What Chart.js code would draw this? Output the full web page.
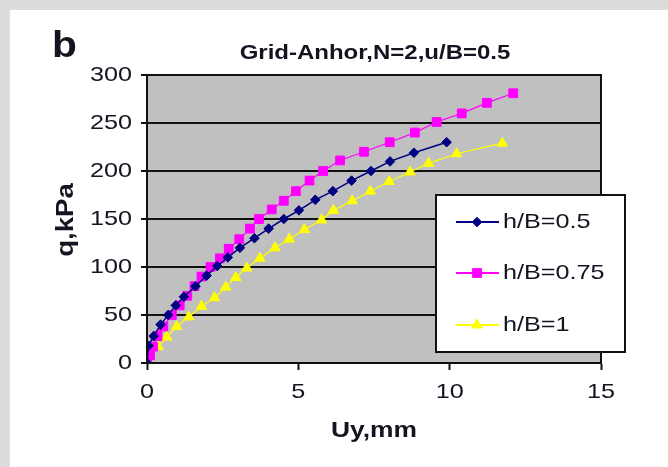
<!DOCTYPE html>
<html>
<head>
<meta charset="utf-8">
<script src="https://cdn.jsdelivr.net/npm/chart.js@4.4.1/dist/chart.umd.min.js"></script>
<style>
  html, body { margin: 0; padding: 0; background: #ffffff; }
  #wrap { position: relative; width: 668px; height: 467px; overflow: hidden; background: #ffffff; }
  .band { position: absolute; background: #dcdcdc; }
  canvas { position: absolute; left: 0; top: 0; }
</style>
</head>
<body>
<div id="wrap">
  <div class="band" style="left:0;top:0;width:668px;height:10px;"></div>
  <div class="band" style="left:0;top:0;width:10px;height:467px;"></div>
  <canvas id="c" width="668" height="467"></canvas>
</div>
<script>
// ---- data ----
const seriesLabels = ["h/B=0.5", "h/B=0.75", "h/B=1"];
const blueX   = [0, 0.05, 0.22, 0.45, 0.7, 0.95, 1.22, 1.6, 1.97, 2.32, 2.67, 3.07, 3.55, 4.02, 4.52, 5.02, 5.56, 6.14, 6.76, 7.4, 8.03, 8.82, 9.9];
const blueY   = [0, 18, 28, 40, 50, 60, 69, 80, 91, 101, 110, 120, 130, 140, 150, 159, 170, 179, 190, 200, 210, 219, 230];
const pinkX   = [0, 0.1, 0.2, 0.35, 0.54, 0.82, 1.08, 1.33, 1.57, 1.8, 2.1, 2.41, 2.7, 3.05, 3.4, 3.7, 4.12, 4.52, 4.92, 5.37, 5.82, 6.38, 7.17, 8.02, 8.85, 9.57, 10.4, 11.23, 12.1];
const pinkY   = [0, 8, 17, 28, 38, 50, 60, 70, 80, 90, 100, 109, 119, 129, 140, 150, 160, 169, 179, 190, 200, 211, 220, 230, 240, 251, 260, 271, 281];
const yellowX = [0, 0.37, 0.65, 0.98, 1.38, 1.8, 2.23, 2.6, 2.93, 3.3, 3.73, 4.23, 4.7, 5.2, 5.77, 6.16, 6.78, 7.38, 8.0, 8.69, 9.3, 10.23, 11.74];
const yellowY = [0, 17, 27, 38, 48, 59, 68, 79, 89, 99, 109, 120, 129, 139, 149, 159, 169, 179, 189, 199, 208, 218, 229];
const xTicks = [0, 5, 10, 15];
const yTicks = [0, 50, 100, 150, 200, 250, 300];
const chartTitle = "Grid-Anhor,N=2,u/B=0.5";
const panelLetter = "b";
const xTitle = "Uy,mm";
const yTitle = "q,kPa";

function pts(xs, ys) { return xs.map((x, i) => ({ x: x, y: ys[i] })); }

const TXT = "#141420";
function stext(ctx, txt, x, y, font, align, sx, rot) {
  ctx.save();
  ctx.translate(x, y);
  if (rot) ctx.rotate(rot);
  ctx.scale(sx, 1);
  ctx.font = font;
  ctx.fillStyle = TXT;
  ctx.textAlign = align;
  ctx.textBaseline = "middle";
  ctx.fillText(txt, 0, 0);
  ctx.restore();
}

const deco = {
  id: "deco",
  beforeDraw(chart) {
    const { ctx, chartArea: a } = chart;
    ctx.save();
    ctx.fillStyle = "#c0c0c0";
    ctx.fillRect(a.left, a.top, a.right - a.left, a.bottom - a.top);
    ctx.restore();
  },
  afterDraw(chart) {
    const { ctx, chartArea: a } = chart;
    const xs = chart.scales.x, ys = chart.scales.y;
    // plot frame
    ctx.save();
    ctx.strokeStyle = "#111";
    ctx.lineWidth = 2;
    ctx.strokeRect(a.left, a.top, a.right - a.left, a.bottom - a.top);
    ctx.restore();
    // tick labels
    const F = '"Liberation Sans", Arial, sans-serif';
    yTicks.forEach(v => stext(ctx, String(v), 132, ys.getPixelForValue(v), "21px " + F, "right", 1.2));
    xTicks.forEach(v => stext(ctx, String(v), xs.getPixelForValue(v), 392, "21px " + F, "center", 1.2));
    // titles
    stext(ctx, chartTitle, 375, 53, "bold 20px " + F, "center", 1.2);
    stext(ctx, panelLetter, 52, 47, "bold 37px " + F, "left", 1.1);
    stext(ctx, xTitle, 374, 431, "bold 22px " + F, "center", 1.2);
    stext(ctx, yTitle, 67, 220, "bold 23px " + F, "center", 1.2, -Math.PI / 2);
    // legend
    const L = 436, T = 195, R = 625, B = 352;
    ctx.save();
    ctx.fillStyle = "#ffffff";
    ctx.fillRect(L, T, R - L, B - T);
    ctx.strokeStyle = "#111";
    ctx.lineWidth = 2;
    ctx.strokeRect(L, T, R - L, B - T);
    ctx.restore();
    const rows = [222, 273, 325];
    chart.data.datasets.forEach((ds, i) => {
      const y = rows[i];
      ctx.save();
      ctx.strokeStyle = ds.borderColor;
      ctx.lineWidth = 2;
      ctx.beginPath();
      ctx.moveTo(456, y);
      ctx.lineTo(499, y);
      ctx.stroke();
      ctx.fillStyle = ds.pointBackgroundColor;
      ctx.strokeStyle = ds.pointBorderColor;
      ctx.lineWidth = 1;
      Chart.helpers.drawPoint(ctx, { pointStyle: ds.pointStyle, radius: ds.pointRadius, borderWidth: 1, rotation: 0 }, 477, y);
      ctx.restore();
      stext(ctx, ds.label, 503, y, "21px " + F, "left", 1.2);
    });
  }
};

new Chart(document.getElementById("c"), {
  type: "scatter",
  data: {
    datasets: [
      { label: seriesLabels[0], data: pts(blueX, blueY), showLine: true, borderColor: "#000080", borderWidth: 1.5,
        pointStyle: "rectRot", pointRadius: 4.8, pointBackgroundColor: "#000080", pointBorderColor: "#000080", pointBorderWidth: 1 },
      { label: seriesLabels[1], data: pts(pinkX, pinkY), showLine: true, borderColor: "#ff00ff", borderWidth: 1.2,
        pointStyle: "rect", pointRadius: 6.2, pointBackgroundColor: "#ff00ff", pointBorderColor: "#ff00ff", pointBorderWidth: 1 },
      { label: seriesLabels[2], data: pts(yellowX, yellowY), showLine: true, borderColor: "#ffff00", borderWidth: 1.2,
        pointStyle: "triangle", pointRadius: 6, pointBackgroundColor: "#ffff00", pointBorderColor: "#ffff00", pointBorderWidth: 1 }
    ]
  },
  options: {
    responsive: false,
    animation: false,
    events: [],
    layout: { padding: { left: 0, top: 75, right: 67, bottom: 0 } },
    plugins: { legend: { display: false }, title: { display: false }, tooltip: { enabled: false } },
    scales: {
      x: {
        type: "linear", min: 0, max: 15,
        afterBuildTicks: s => { s.ticks = xTicks.map(v => ({ value: v })); },
        ticks: { display: false },
        grid: { drawOnChartArea: false, drawTicks: true, tickLength: 7, tickColor: "#111", tickWidth: 2, color: "#111" },
        border: { display: true, color: "#111", width: 2 },
        afterFit: s => { s.height = 104; }
      },
      y: {
        type: "linear", min: 0, max: 300,
        afterBuildTicks: s => { s.ticks = yTicks.map(v => ({ value: v })); },
        ticks: { display: false },
        grid: { drawOnChartArea: true, drawTicks: true, tickLength: 6, tickColor: "#111", tickWidth: 2, color: "#111", lineWidth: 2 },
        border: { display: true, color: "#111", width: 2 },
        afterFit: s => { s.width = 147; }
      }
    }
  },
  plugins: [deco]
});
</script>
</body>
</html>
